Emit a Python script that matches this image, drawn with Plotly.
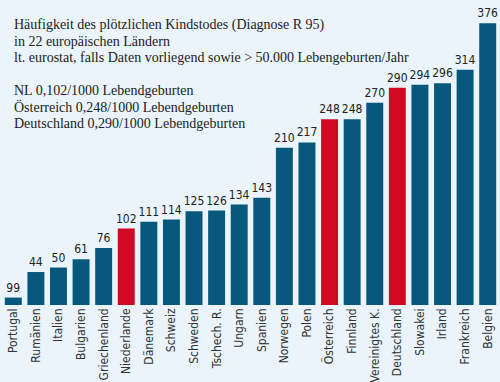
import plotly.graph_objects as go

countries = ["Portugal", "Rumänien", "Italien", "Bulgarien", "Griechenland", "Niederlande",
             "Dänemark", "Schweiz", "Schweden", "Tschech. R.", "Ungarn", "Spanien",
             "Norwegen", "Polen", "Österreich", "Finnland", "Vereinigtes K.", "Deutschland",
             "Slowakei", "Irland", "Frankreich", "Belgien"]
# bar heights as drawn (Portugal's bar is drawn at ~9.9 although labelled 99)
bar_heights = [9.9, 44, 50, 61, 76, 102, 111, 114, 125, 126, 134, 143,
               210, 217, 248, 248, 270, 290, 294, 296, 314, 376]
value_labels = ["99", "44", "50", "61", "76", "102", "111", "114", "125", "126", "134", "143",
                "210", "217", "248", "248", "270", "290", "294", "296", "314", "376"]
highlight = ["Niederlande", "Österreich", "Deutschland"]

title_lines = [
    "Häufigkeit des plötzlichen Kindstodes (Diagnose R 95)",
    "in 22 europäischen Ländern",
    "lt. eurostat, falls Daten vorliegend sowie > 50.000 Lebengeburten/Jahr",
    "",
    "NL 0,102/1000 Lebendgeburten",
    "Österreich 0,248/1000 Lebendgeburten",
    "Deutschland 0,290/1000 Lebendgeburten",
]

BLUE = "#07587c"
RED = "#cf0a22"
colors = [RED if c in highlight else BLUE for c in countries]
SANS = "DejaVu Sans Condensed, Liberation Sans Narrow, Arial Narrow, sans-serif"

fig = go.Figure(go.Bar(
    x=countries, y=bar_heights, marker=dict(color=colors, line=dict(width=0)),
    text=value_labels, textposition="outside", cliponaxis=False, constraintext="none",
    textfont=dict(family=SANS, size=12, color="#222222"),
))

for i, line in enumerate(title_lines):
    if not line:
        continue
    fig.add_annotation(
        x=0, y=1, xref="paper", yref="paper", xanchor="left", yanchor="middle",
        xshift=10, yshift=-(24.5 + 16.5 * i), align="left", showarrow=False,
        text=line,
        font=dict(family="Liberation Serif, DejaVu Serif, serif", size=14, color="#222222"),
    )

fig.update_layout(
    width=500, height=382,
    margin=dict(l=2, r=1, t=0, b=65),
    paper_bgcolor="#eaf4fa", plot_bgcolor="#eaf4fa",
    bargap=0.25, showlegend=False,
    xaxis=dict(tickangle=-90, showgrid=False, showline=False, ticks="",
               tickfont=dict(family=SANS, size=12, color="#333333")),
    yaxis=dict(range=[0, 407], visible=False),
)

fig.write_html("out.html", config={"displayModeBar": False},
               post_script="document.body.style.margin='0';")
